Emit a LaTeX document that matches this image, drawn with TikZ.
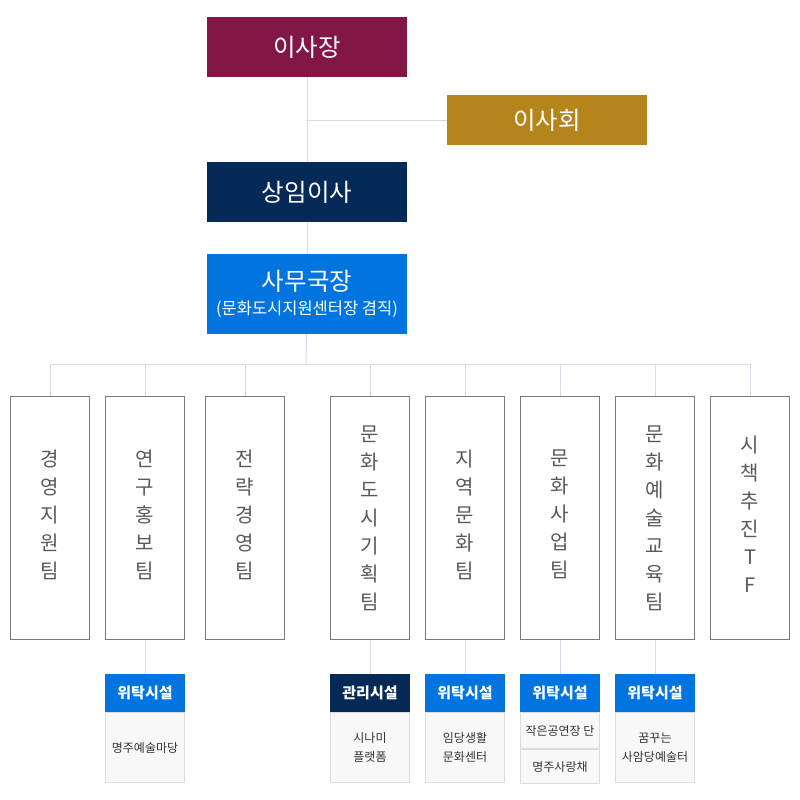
\documentclass[tikz,border=0pt]{standalone}
\usepackage{fontspec}
\setmainfont{Noto Sans CJK KR}
\usetikzlibrary{positioning}
\definecolor{chairred}{HTML}{821747}
\definecolor{boardgold}{HTML}{B5841B}
\definecolor{execnavy}{HTML}{062A57}
\definecolor{dirblue}{HTML}{0174DF}
\definecolor{linkgray}{HTML}{D8D8E6}
\definecolor{teamgray}{HTML}{7A7A7A}
\definecolor{bodygray}{HTML}{F8F8F8}
\definecolor{bodyline}{HTML}{DCDCDC}
\tikzset{%
	head/.style     = {rectangle, minimum width = 200pt, inner sep = 0pt,
		text = white, font = \fontsize{24.5}{28}\selectfont}, % top boxes
	team/.style     = {draw = teamgray, line width = 1pt, rectangle, minimum width = 79pt,
		minimum height = 243pt, inner sep = 0pt, align = center,
		text = black!65, font = \fontsize{20}{28}\selectfont},
	tag/.style      = {rectangle, minimum width = 80pt, minimum height = 38pt, inner sep = 0pt,
		text = white, font = \bfseries\fontsize{15}{18}\selectfont},
	site/.style     = {draw = bodyline, fill = bodygray, line width = 1pt, rectangle,
		minimum width = 79pt, inner sep = 0pt, align = center,
		text = black!80, font = \fontsize{12}{18.5}\selectfont},
	link/.style     = {draw = linkgray, line width = 1pt}
}
\begin{document}
\begin{tikzpicture}[x=1pt,y=-1pt]
			\useasboundingbox (0,0) rectangle (800,800);
			% top of the chart
			\node[head, fill = chairred,  minimum height = 60pt] (chair) at (307,47)  {이사장};
			\node[head, fill = boardgold, minimum height = 50pt] (board) at (547,120) {이사회};
			\node[head, fill = execnavy,  minimum height = 60pt] (exec)  at (307,192) {상임이사};
			\node[head, fill = dirblue,   minimum height = 80pt, align = center] (dir) at (307,294)
				{사무국장\\[-4pt]{\fontsize{16.5}{18}\selectfont (문화도시지원센터장 겸직)}};
			\coordinate (hub) at (306,364);
			
			\draw[link] (chair) -- (exec);
			\draw[link] (exec) -- (dir);
			\draw[link] (board.west) -- (board.west -| hub);
			
			% teams
			\node[team] (mgmt)  at (50,518)  {경\\영\\지\\원\\팀\\[-20pt]};
			\node[team] (pr)    at (145,518) {연\\구\\홍\\보\\팀\\[-20pt]};
			\node[team] (plan)  at (245,518) {전\\략\\경\\영\\팀\\[-20pt]};
			\node[team] (city)  at (370,518) {문\\화\\도\\시\\기\\획\\팀};
			\node[team] (local) at (465,518) {지\\역\\문\\화\\팀\\[-20pt]};
			\node[team] (biz)   at (560,518) {문\\화\\사\\업\\팀\\[-20pt]};
			\node[team] (edu)   at (655,518) {문\\화\\예\\술\\교\\육\\팀};
			\node[team] (tf)    at (750,518) {시\\책\\추\\진\\T\\F\\[-20pt]};
			
			\draw[link] (dir) -- (hub);
			\foreach \t in {mgmt,pr,plan,city,local,biz,edu,tf}
				\draw[link] (hub) -| (\t.north);
			
			% facilities
			\node[tag, fill = dirblue]  (prTag)    at (145,693) {위탁시설};
			\node[tag, fill = execnavy] (cityTag)  at (370,693) {관리시설};
			\node[tag, fill = dirblue]  (localTag) at (465,693) {위탁시설};
			\node[tag, fill = dirblue]  (bizTag)   at (560,693) {위탁시설};
			\node[tag, fill = dirblue]  (eduTag)   at (655,693) {위탁시설};
			
			\node[site, minimum height = 70pt, below = 0pt of prTag]    (prSite)    {명주예술마당};
			\node[site, minimum height = 70pt, below = 0pt of cityTag]  (citySite)  {시나미\\플랫폼};
			\node[site, minimum height = 70pt, below = 0pt of localTag] (localSite) {임당생활\\문화센터};
			\node[site, minimum height = 36pt, below = 0pt of bizTag]   (bizSite)   {작은공연장 단};
			\node[site, minimum height = 34pt, below = 0pt of bizSite]  (bizSite2)  {명주사랑채};
			\node[site, minimum height = 70pt, below = 0pt of eduTag]   (eduSite)   {꿈꾸는\\사암당예술터};
			
			\foreach \t in {pr,city,local,biz,edu}
				\draw[link] (\t.south) -- (\t Tag.north);
		\end{tikzpicture}
\end{document}
